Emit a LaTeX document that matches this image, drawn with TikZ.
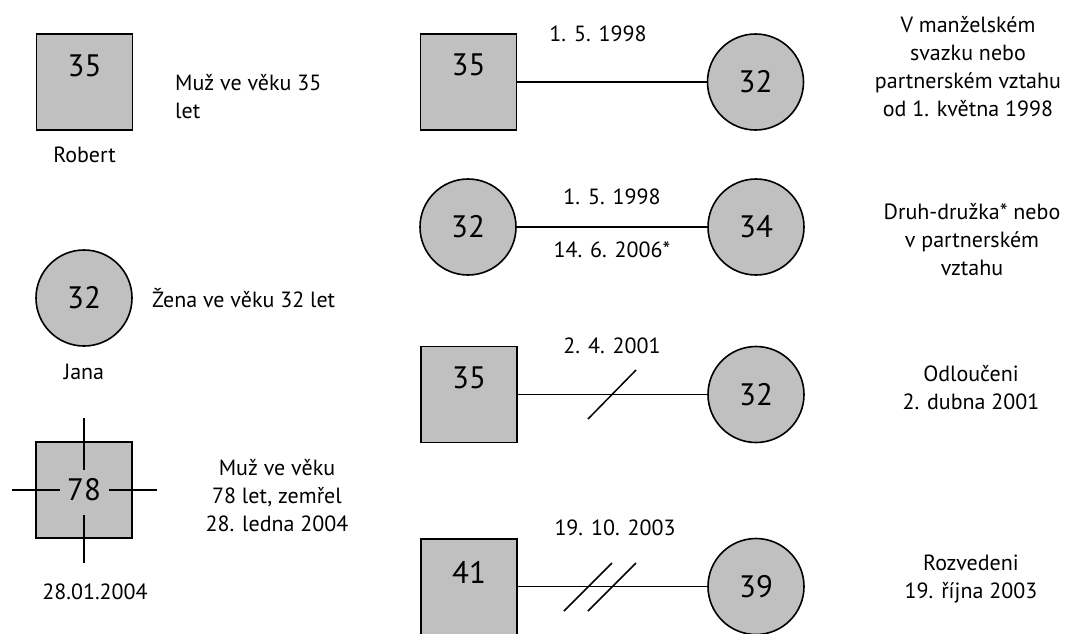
\documentclass[tikz,border=0pt]{standalone}
\usepackage{fontspec}
\setmainfont{PT Sans}
\begin{document}
\begin{tikzpicture}[x=1pt,y=-1pt,
  sq/.style={draw=black,line width=1.8pt,fill=boxgray,minimum width=96pt,minimum height=96pt,inner sep=0pt},
  fem/.style={draw=black,line width=1.6pt,fill=boxgray,circle,minimum size=96pt,inner sep=0pt,font=\fontsize{31}{31}\selectfont},
  num/.style={inner sep=0pt,font=\fontsize{31}{31}\selectfont},
  lab/.style={inner sep=0pt,font=\fontsize{22}{28}\selectfont},
  desc/.style={inner sep=0pt,align=center,font=\fontsize{22}{28}\selectfont},
  conn/.style={line width=1.5pt},
  cut/.style={line width=1.5pt}]
\definecolor{boxgray}{HTML}{C0C0C0}
\useasboundingbox (0,0) rectangle (1076,633);
\begin{scope}
\clip (0,0) rectangle (1076,633);
% ---------- left column
\node[sq] (m1) at (84.5,82) {};
\node[num] (m1n) at (84.5,66) {35};
\node[lab] (m1name) at (84.5,155) {Robert};
\node[lab,anchor=west,align=left] (m1d) at (175,97) {Muž ve věku 35\\let};

\node[fem] (f1) at (84,298) {32};
\node[lab,anchor=west] (f1d) at (152,298) {Žena ve věku 32 let};
\node[lab] (f1name) at (84,372) {Jana};

\node[sq] (d1) at (84,490) {};
\node[num] (d1n) at (84,490) {78};
\coordinate (cN1) at (84,418); \coordinate (cN2) at (84,470);
\coordinate (cS1) at (84,515); \coordinate (cS2) at (84,563);
\coordinate (cW1) at (12,490); \coordinate (cW2) at (60,490);
\coordinate (cE1) at (109,490); \coordinate (cE2) at (157,490);
\draw[cut] (cN1) -- (cN2);
\draw[cut] (cS1) -- (cS2);
\draw[cut] (cW1) -- (cW2);
\draw[cut] (cE1) -- (cE2);
\node[lab] (d1date) at (95,592) {28.01.2004};
\node[desc] (d1d) at (277,496) {Muž ve věku\\78 let, zemřel\\28. ledna 2004};

% ---------- row 1: married
\node[sq] (r1m) at (468.5,82) {};
\node[num] (r1mn) at (468.5,65) {35};
\node[fem] (r1f) at (755.5,82) {32};
\draw[conn] (r1m) -- (r1f);
\node[lab] (r1date) at (598,34) {1. 5. 1998};
\node[desc] (r1d) at (968,66.5) {V manželském\\svazku nebo\\partnerském vztahu\\od 1. května 1998};

% ---------- row 2: cohabiting
\node[fem] (r2a) at (468,227) {32};
\node[fem] (r2b) at (756,227) {34};
\draw[conn] (r2a) -- (r2b);
\node[lab] (r2date1) at (612,197) {1. 5. 1998};
\node[lab] (r2date2) at (612,250) {14. 6. 2006*};
\node[desc] (r2d) at (972,240) {Druh-družka* nebo\\v partnerském\\vztahu};

% ---------- row 3: separated
\node[sq] (r3m) at (469,394.5) {};
\node[num] (r3mn) at (469,378) {35};
\node[fem] (r3f) at (756,394.5) {32};
\draw[conn] (r3m) -- (r3f);
\coordinate (s3a) at (588,419); \coordinate (s3b) at (636,370);
\draw[cut] (s3a) -- (s3b);
\node[lab] (r3date) at (612,346) {2. 4. 2001};
\node[desc] (r3d) at (971,388) {Odloučeni\\2. dubna 2001};

% ---------- row 4: divorced
\node[sq] (r4m) at (469,587) {};
\node[num] (r4mn) at (469,572) {41};
\node[fem] (r4f) at (756,586.5) {39};
\draw[conn] (r4m.east |- r4f) -- (r4f);
\coordinate (s4a) at (564,611); \coordinate (s4b) at (612,563);
\coordinate (s4c) at (588,611); \coordinate (s4d) at (636,563);
\draw[cut] (s4a) -- (s4b);
\draw[cut] (s4c) -- (s4d);
\node[lab] (r4date) at (615,528) {19. 10. 2003};
\node[desc] (r4d) at (971,579) {Rozvedeni\\19. října 2003};
\end{scope}
\end{tikzpicture}
\end{document}
